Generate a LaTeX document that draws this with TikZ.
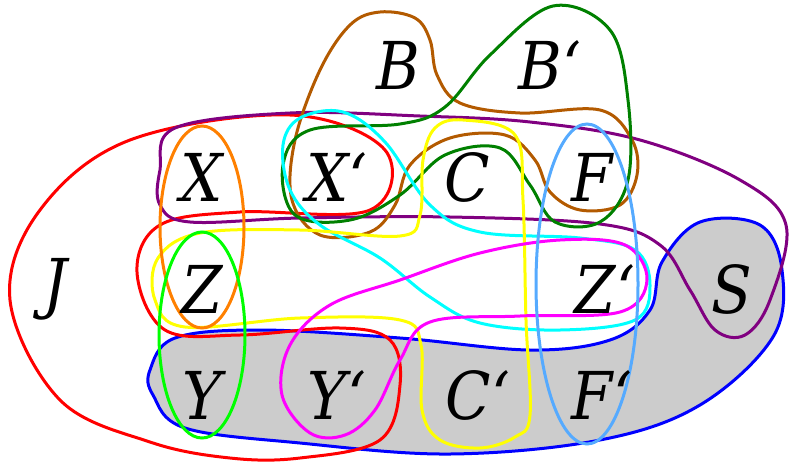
\documentclass[tikz,border=0pt]{standalone}
\usepackage{fontspec}
\setmainfont{DejaVu Serif Condensed}
\definecolor{setred}{HTML}{FF0000}
\definecolor{setpurple}{HTML}{800080}
\definecolor{setorange}{HTML}{FF8000}
\definecolor{setlime}{HTML}{00FF00}
\definecolor{setbrown}{HTML}{B35A00}
\definecolor{setgreen}{HTML}{008000}
\definecolor{setcyan}{HTML}{00FFFF}
\definecolor{setyellow}{HTML}{FFFF00}
\definecolor{setmagenta}{HTML}{FF00FF}
\definecolor{setsky}{HTML}{55AAFF}
\definecolor{setblue}{HTML}{0000FF}
\definecolor{setgray}{HTML}{CCCCCC}
\tikzset{
  border/.style={line width=3pt},
  elem/.style={font=\fontsize{66}{66}\selectfont\itshape, inner sep=0pt}
}
\begin{document}
\begin{tikzpicture}[x=1pt, y=-1pt]
  \useasboundingbox (0,0) rectangle (789,464);
  % S: the shaded region
  \draw[border, setblue, fill=setgray] plot[smooth cycle, tension=0.6] coordinates {
    (150,370) (175,338) (260,330) (400,338) (530,350) (610,340) (650,310)
    (662,262) (700,222) (760,225) (782,270) (773,337) (700,405) (600,440)
    (450,454) (300,443) (185,428) (153,395)};

  % J
  \draw[border, setred] plot[smooth cycle, tension=0.6] coordinates {
    (290,115) (385,150) (370,210) (240,212) (160,225) (137,272) (165,330)
    (240,335) (340,328) (390,340) (400,385) (380,440) (300,458) (230,458)
    (150,442) (60,400) (10,300) (40,210) (130,140)};
  % purple
  \draw[border, setpurple] plot[smooth cycle, tension=0.6] coordinates {
    (160,170) (175,128) (290,113) (420,116) (530,122) (640,140) (740,180)
    (786,225) (770,300) (745,335) (715,330) (690,290) (660,245) (600,224)
    (450,217) (300,218) (190,222) (160,205)};
  % B
  \draw[border, setbrown] plot[smooth cycle, tension=0.6] coordinates {
    (380,12) (415,18) (430,40) (437,75) (460,103) (520,113) (600,110)
    (632,140) (637,175) (620,205) (580,210) (550,192) (535,160) (505,135)
    (450,138) (410,165) (395,205) (370,232) (320,235) (292,200) (295,140)
    (320,70) (350,25)};
  % B'
  \draw[border, setgreen] plot[smooth cycle, tension=0.6] coordinates {
    (553,6) (610,30) (628,100) (628,180) (600,222) (555,222) (530,185)
    (500,148) (445,155) (400,195) (350,220) (295,215) (283,165) (310,130)
    (400,124) (445,107) (490,55)};
  % cyan
  \draw[border, setcyan] plot[smooth cycle, tension=0.6] coordinates {
    (343,112) (385,142) (430,205) (480,232) (580,238) (635,250) (650,285)
    (635,320) (560,330) (480,323) (430,297) (380,258) (320,225) (290,190)
    (283,145) (300,118)};
  % yellow
  \draw[border, setyellow] plot[smooth cycle, tension=0.6] coordinates {
    (463,120) (515,135) (523,200) (526,320) (530,415) (515,437) (480,448)
    (440,440) (422,410) (421,345) (400,320) (300,318) (185,327) (155,300)
    (158,258) (200,233) (300,230) (400,236) (420,215) (423,160) (435,128)};
  % magenta
  \draw[border, setmagenta] plot[smooth cycle, tension=0.6] coordinates {
    (647,280) (625,245) (560,240) (480,253) (400,280) (330,305) (290,345)
    (282,395) (310,433) (345,435) (375,410) (400,360) (430,322) (520,316)
    (620,312)};
  % ellipses
  \draw[border, setorange] (202,227) ellipse [x radius=42, y radius=101];
  \draw[border, setlime] (202,335) ellipse [x radius=43, y radius=103];
  \draw[border, setsky] (587,284) ellipse [x radius=51, y radius=160];

  % elements
  \node[elem] (b)  at (398,65)  {B};
  \node[elem] (b2) at (550,65)  {B‘};
  \node[elem] (x)  at (202,177) {X};
  \node[elem] (x2) at (337,177) {X‘};
  \node[elem] (c)  at (467,177) {C};
  \node[elem] (f)  at (592,177) {F};
  \node[elem] (j)  at (55,289)  {J};
  \node[elem] (z)  at (202,289) {Z};
  \node[elem] (z2) at (605,289) {Z‘};
  \node[elem] (s)  at (732,289) {S};
  \node[elem] (y)  at (202,395) {Y};
  \node[elem] (y2) at (337,395) {Y‘};
  \node[elem] (c2) at (478,395) {C‘};
  \node[elem] (f2) at (602,395) {F‘};
\end{tikzpicture}
\end{document}
